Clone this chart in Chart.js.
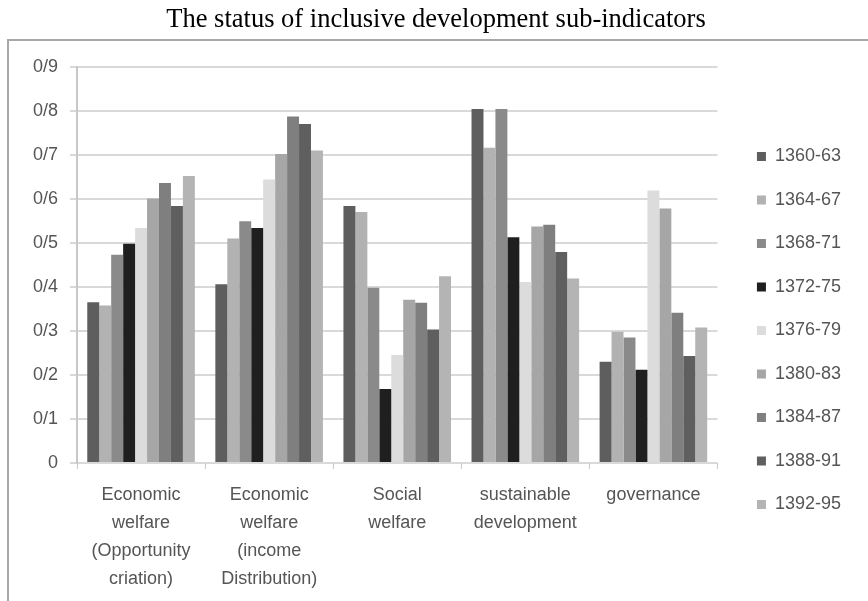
<!DOCTYPE html>
<html>
<head>
<meta charset="utf-8">
<script src="https://cdn.jsdelivr.net/npm/chart.js@4.4.1/dist/chart.umd.min.js"></script>
<style>
  html, body { margin: 0; padding: 0; background: #fff; }
  #wrap { width: 868px; height: 601px; }
</style>
</head>
<body>
<div id="wrap"><canvas id="subindicators-chart" width="868" height="601"></canvas></div>
<script>
const categories = [
    ['Economic', 'welfare', '(Opportunity', 'criation)'],
    ['Economic', 'welfare', '(income', 'Distribution)'],
    ['Social', 'welfare'],
    ['sustainable', 'development'],
    ['governance']
];

const periods = ['1360-63', '1364-67', '1368-71', '1372-75', '1376-79', '1380-83', '1384-87', '1388-91', '1392-95'];

// one array per period, one value per category
const v1360 = [0.365, 0.406, 0.584, 0.804, 0.230];
const v1364 = [0.358, 0.510, 0.570, 0.716, 0.298];
const v1368 = [0.473, 0.549, 0.398, 0.804, 0.285];
const v1372 = [0.498, 0.534, 0.168, 0.513, 0.212];
const v1376 = [0.534, 0.644, 0.245, 0.411, 0.619];
const v1380 = [0.601, 0.702, 0.371, 0.537, 0.578];
const v1384 = [0.636, 0.787, 0.364, 0.541, 0.341];
const v1388 = [0.584, 0.770, 0.303, 0.479, 0.243];
const v1392 = [0.652, 0.710, 0.424, 0.419, 0.308];

const tickLabels = ['0', '0/1', '0/2', '0/3', '0/4', '0/5', '0/6', '0/7', '0/8', '0/9'];

const seriesValues = [v1360, v1364, v1368, v1372, v1376, v1380, v1384, v1388, v1392];
const barColors = ['#5e5e5e', '#b2b2b2', '#8a8a8a', '#1f1f1f', '#dcdcdc', '#a6a6a6', '#7f7f7f', '#5f5f5f', '#b4b4b4'];

// grey frame round the plot, as in the scanned figure
const framePlugin = {
    id: 'frame',
    beforeDraw(chart) {
        const c = chart.ctx;
        c.save();
        c.strokeStyle = '#a8a8a8';
        c.lineWidth = 2;
        c.beginPath();
        c.moveTo(8, chart.height);
        c.lineTo(8, 40);
        c.lineTo(chart.width, 40);
        c.stroke();
        c.restore();
    }
};

const labelFont = { family: "'Liberation Sans', Arial, sans-serif", size: 18 };

let ctx = document.getElementById('subindicators-chart');

var chart = new Chart(ctx, {
    type: 'bar',
    data: {
        labels: categories,
        datasets: periods.map((p, i) => ({
            label: p,
            data: seriesValues[i],
            backgroundColor: barColors[i],
            borderWidth: 0,
            barPercentage: 1,
            categoryPercentage: 0.84
        }))
    },
    options: {
        responsive: false,
        animation: false,
        layout: {
            padding: { left: 21, right: 17, top: 0, bottom: -4 }
        },
        scales: {
            y: {
                min: 0,
                max: 0.9,
                ticks: {
                    stepSize: 0.1,
                    color: '#555',
                    font: labelFont,
                    padding: 12,
                    callback: (value, index) => tickLabels[index]
                },
                grid: {
                    color: '#d9d9d9',
                    lineWidth: 2,
                    tickLength: 7
                },
                border: {
                    display: true,
                    color: '#c8c8c8',
                    width: 2
                }
            },
            // empty spacer between plot and legend
            gap: {
                type: 'linear',
                position: 'right',
                grid: { display: false },
                ticks: { display: false },
                border: { display: false },
                afterFit: (scale) => { scale.width = 14; }
            },
            x: {
                ticks: {
                    color: '#555',
                    font: { ...labelFont, lineHeight: 1.556 },
                    padding: 12,
                    maxRotation: 0,
                    autoSkip: false
                },
                grid: {
                    drawOnChartArea: false,
                    color: '#c8c8c8',
                    tickLength: 6
                },
                border: {
                    display: false
                }
            }
        },
        plugins: {
            title: {
                display: true,
                text: 'The status of inclusive development sub-indicators',
                color: '#000',
                font: { family: "'Liberation Serif', 'Times New Roman', serif", size: 26.5, weight: 'normal' },
                padding: { top: 4, bottom: 31 }
            },
            legend: {
                position: 'right',
                align: 'center',
                title: {
                    display: true,
                    text: ' ',
                    font: { size: 10 },
                    padding: { top: 44, bottom: 0 }
                },
                labels: {
                    boxWidth: 9,
                    boxHeight: 9,
                    padding: 25.5,
                    color: '#555',
                    font: labelFont
                }
            },
            tooltip: {
                enabled: false
            }
        }
    },
    plugins: [framePlugin]
});
</script>
</body>
</html>
